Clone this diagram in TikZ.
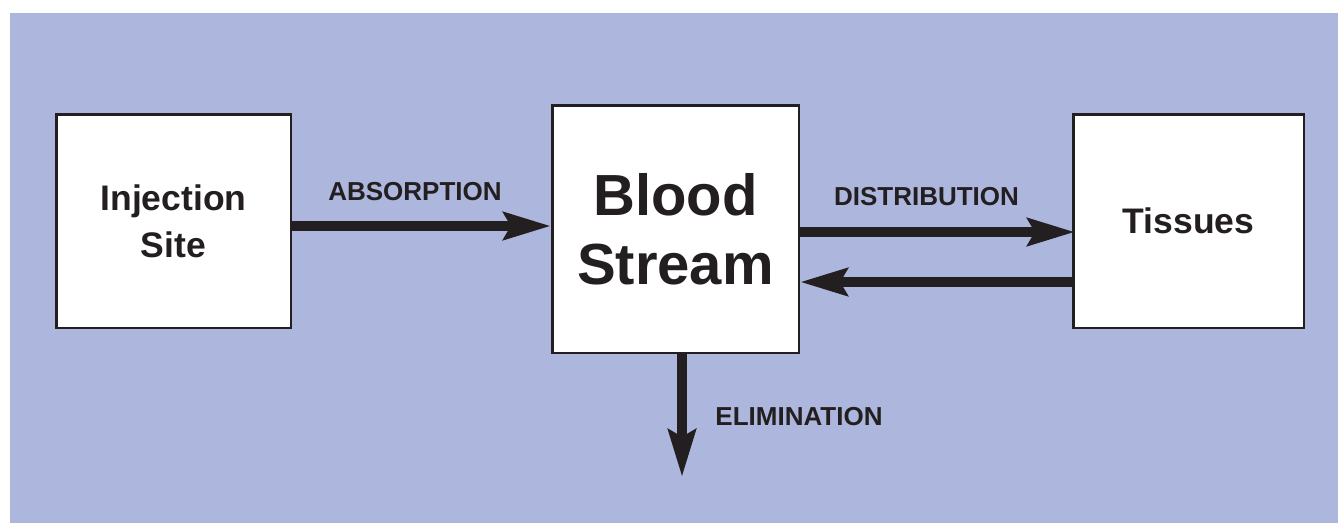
\documentclass[tikz,border=0pt]{standalone}
\usepackage{fontspec}
\setmainfont{Liberation Sans}
\usetikzlibrary{arrows.meta}
\definecolor{bgblue}{RGB}{173,182,221}
\definecolor{ink}{RGB}{35,31,32}

\begin{document}
\begin{tikzpicture}[x=1pt, y=-1pt,
                    >={Stealth[length=47pt 0, width=27pt 0, inset=7pt 0]},
                    block/.style={draw=ink, fill=white, line width=2.5pt, rectangle, align=center, text=ink, font=\bfseries\fontsize{35.5}{47}\selectfont},
                    big/.style={font=\bfseries\fontsize{58}{69}\selectfont},
                    lbl/.style={text=ink, inner sep=0pt, font=\bfseries\fontsize{26}{28}\selectfont},
                    ra/.style={->, draw=ink, fill=ink, line width=10.5pt}]

\useasboundingbox (0,0) rectangle (1338,523);
\fill [bgblue] (10,13) rectangle (1338,523);

\node [block, minimum width=234.5pt, minimum height=213.5pt] (inj) at (173.5,221) {Injection\\Site};
\node [block, big, minimum width=246.5pt, minimum height=247.5pt] (blood) at (675.5,229) {Blood\\Stream};
\node [block, minimum width=230.5pt, minimum height=213.5pt] (tis) at (1188.5,221) {Tissues};
\coordinate (elim) at (682,477);

\draw [ra] ([yshift=-5pt]inj.east) -- ([yshift=-5pt]inj.east -| blood.west);
\draw [ra] ([yshift=-3pt]blood.east) -- ([yshift=-3pt, xshift=3pt]blood.east -| tis.west);
\draw [ra] ([yshift=-61pt, xshift=3pt]tis.west) -- ([yshift=-61pt]tis.west -| blood.east);
\draw [ra] ([xshift=6.5pt]blood.south) -- (elim);

\node [lbl] (absorb) at (415,192) {ABSORPTION};
\node [lbl] (distrib) at (926.5,197) {DISTRIBUTION};
\node [lbl] (elimlbl) at (799,417) {ELIMINATION};
\end{tikzpicture}
\end{document}
